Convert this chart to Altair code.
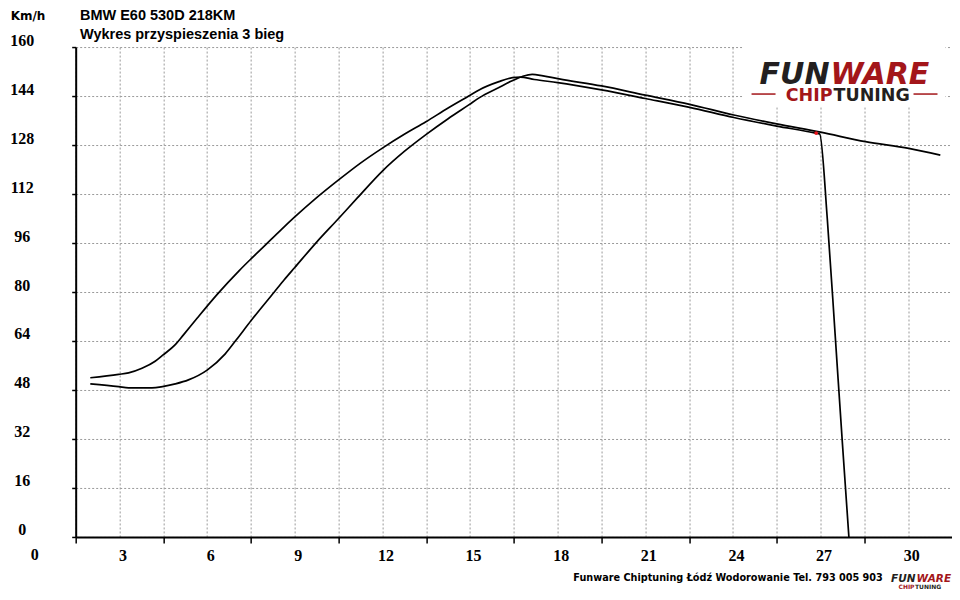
import altair as alt
import pandas as pd

# ---------------- data ----------------
a_time = [2.0, 2.97, 3.31, 3.77, 4.22, 4.47, 4.91, 5.19, 5.67, 6.36, 7.1, 7.5, 8.0, 8.53,
          9.0, 9.75, 10.5, 11.25, 12.0, 12.75, 13.49, 14.25, 14.97, 15.31, 15.99, 16.45,
          16.72, 17.2, 18.0, 19.5, 21.0, 22.52, 24.03, 25.5, 26.83, 26.97, 27.23, 27.5,
          27.74, 27.97]
a_speed = [52.0, 53.1, 53.6, 55.1, 57.4, 59.3, 62.8, 66.0, 71.6, 79.4, 87.0, 90.8, 95.4, 100.3,
           104.5, 110.8, 116.6, 122.1, 127.0, 131.5, 135.6, 140.1, 144.1, 146.0, 148.7, 150.0,
           150.2, 149.4, 148.4, 146.0, 143.2, 140.3, 137.0, 134.2, 131.9, 131.6, 104.0, 66.0,
           31.7, 0.0]

b_time = [2.0, 2.97, 3.31, 4.11, 4.47, 4.91, 5.36, 6.0, 6.62, 7.0, 7.5, 8.3, 8.64, 9.0,
          9.75, 10.5, 11.15, 12.0, 12.75, 13.49, 14.25, 14.97, 15.31, 15.99, 16.4, 16.79,
          17.13, 17.5, 18.05, 19.5, 21.0, 22.52, 24.03, 25.5, 27.0, 28.54, 30.02, 31.1]
b_speed = [50.0, 49.1, 48.7, 48.7, 49.1, 50.0, 51.3, 54.5, 59.8, 64.4, 70.6, 80.0, 84.0, 88.0,
           96.3, 104.0, 110.8, 119.5, 125.9, 131.4, 136.6, 141.2, 143.4, 146.8, 148.8, 150.4,
           151.1, 150.6, 149.6, 147.3, 144.3, 141.3, 137.8, 134.9, 132.2, 129.1, 126.9, 124.7]

marker_time = [26.85]
marker_speed = [131.9]

x_tick_labels = [3, 6, 9, 12, 15, 18, 21, 24, 27, 30]
x_origin_label = ["0"]
y_tick_labels = [0, 16, 32, 48, 64, 80, 96, 112, 128, 144, 160]

title_lines = ["BMW E60 530D 218KM", "Wykres przyspieszenia 3 bieg"]
unit_label = "Km/h"
footer_text = "Funware Chiptuning Łódź Wodorowanie Tel. 793 005 903"
logo_parts = ["FUN", "WARE", "CHIP", "TUNING"]

# ---------------- build tables ----------------
curves = pd.concat([
    pd.DataFrame({"series": "A", "time": a_time, "speed": a_speed}),
    pd.DataFrame({"series": "B", "time": b_time, "speed": b_speed}),
], ignore_index=True)
marker = pd.DataFrame({"time": marker_time, "speed": marker_speed})
origin = pd.DataFrame({"t": x_origin_label, "time": [0], "speed": [0]})

x_grid_values = [1.5 + 1.5 * i for i in range(21)]
y_grid_values = [8 * i for i in range(21)]

TICK_FONT = "Liberation Serif"
SANS = "Liberation Sans"
DARK = "#231f20"
RED = "#a3161a"

x_enc = alt.X(
    "time:Q",
    scale=alt.Scale(domain=[1.5, 31.5], nice=False, zero=False),
    axis=alt.Axis(
        values=x_grid_values,
        labelExpr="datum.value % 3 == 0 ? format(datum.value, 'd') : ''",
        labelFont=TICK_FONT, labelFontSize=16, labelFontWeight="bold", labelColor="black",
        labelPadding=5, labelOffset=3, labelOverlap=False, labelFlush=False,
        labelBaseline="top",
        tickSize=6, tickColor="black", tickWidth=1.5,
        tickOpacity={"condition": {"test": "datum.value % 3 == 1.5", "value": 1}, "value": 0},
        domainColor="black", domainWidth=2,
        grid=True, gridColor="#9a9a9a", gridDash=[2, 2], gridWidth=1,
        title=footer_text, titleFont="DejaVu Sans", titleFontSize=9.7, titleFontWeight="bold",
        titleColor="black", titleX=652, titleY=44, titleAlign="center",
        titleBaseline="alphabetic",
    ),
)
y_enc = alt.Y(
    "speed:Q",
    scale=alt.Scale(domain=[0, 160], nice=False),
    axis=alt.Axis(
        values=y_grid_values,
        labelExpr="datum.value % 16 == 0 ? format(datum.value, 'd') : ''",
        labelFont=TICK_FONT, labelFontSize=16, labelFontWeight="bold", labelColor="black",
        labelAlign="center", labelBaseline="middle", labelPadding=50, labelOffset=-7,
        labelOverlap=False,
        tickSize=4, tickColor="black", tickWidth=1.5,
        tickOpacity={"condition": {"test": "datum.value % 16 == 0", "value": 1}, "value": 0},
        domainColor="black", domainWidth=2,
        grid=True, gridColor="#9a9a9a", gridDash=[2, 2], gridWidth=1,
        title=None,
    ),
)

lines = alt.Chart(curves).mark_line(
    color="black", strokeWidth=1.7, interpolate="monotone", strokeJoin="round"
).encode(x=x_enc, y=y_enc, detail="series:N")

red_mark = alt.Chart(marker).mark_point(
    filled=True, color="#e8141b", size=14, opacity=1
).encode(x="time:Q", y="speed:Q")

origin_label = alt.Chart(origin).mark_text(
    font=TICK_FONT, fontSize=16, fontWeight="bold", color="black",
    dx=3, dy=18, baseline="middle", align="center"
).encode(x="time:Q", y="speed:Q", text="t:N")


def label(text, x, y, **kw):
    return alt.Chart(pd.DataFrame({"t": [text]})).mark_text(**kw).encode(
        text="t:N", x=alt.value(x), y=alt.value(y)
    )


titles = [
    label(title_lines[0], 4.3, -27.5, font=SANS, fontSize=14.5, fontWeight="bold",
          color="black", align="left", baseline="alphabetic"),
    label(title_lines[1], 4.3, -8.5, font=SANS, fontSize=14.5, fontWeight="bold",
          color="black", align="left", baseline="alphabetic"),
    label(unit_label, -47.7, -27.5, font="DejaVu Sans", fontSize=12, fontWeight="bold",
          color="black", align="center", baseline="alphabetic"),
]

logo_bg = alt.Chart(pd.DataFrame({"k": [0]})).mark_rect(color="white").encode(
    x=alt.value(667), x2=alt.value(870), y=alt.value(-7), y2=alt.value(59)
)
logo_rules = [
    alt.Chart(pd.DataFrame({"k": [0]})).mark_rule(color=RED, strokeWidth=1.5).encode(
        x=alt.value(676), x2=alt.value(700), y=alt.value(47)),
    alt.Chart(pd.DataFrame({"k": [0]})).mark_rule(color=RED, strokeWidth=1.5).encode(
        x=alt.value(838), x2=alt.value(862), y=alt.value(47)),
]
logo_text = [
    label(logo_parts[0], 754, 36.5, font="DejaVu Sans", fontSize=30, fontWeight="bold",
          fontStyle="italic", color=DARK, align="right", baseline="alphabetic"),
    label(logo_parts[1], 755, 36.5, font="DejaVu Sans", fontSize=30, fontWeight="bold",
          fontStyle="italic", color=RED, align="left", baseline="alphabetic"),
    label(logo_parts[2], 757, 54, font="DejaVu Sans", fontSize=17.5, fontWeight="bold",
          color=RED, align="right", baseline="alphabetic"),
    label(logo_parts[3], 758, 54, font="DejaVu Sans", fontSize=17.5, fontWeight="bold",
          color=DARK, align="left", baseline="alphabetic"),
    # small footer logo
    label(logo_parts[0], 840, 535, font="DejaVu Sans", fontSize=10.5, fontWeight="bold",
          fontStyle="italic", color=DARK, align="right", baseline="alphabetic"),
    label(logo_parts[1], 841, 535, font="DejaVu Sans", fontSize=10.5, fontWeight="bold",
          fontStyle="italic", color=RED, align="left", baseline="alphabetic"),
    label(logo_parts[2], 839, 542, font="DejaVu Sans", fontSize=6, fontWeight="bold",
          color=RED, align="right", baseline="alphabetic"),
    label(logo_parts[3], 839.5, 542, font="DejaVu Sans", fontSize=6, fontWeight="bold",
          color=DARK, align="left", baseline="alphabetic"),
]

chart = alt.layer(
    logo_bg, lines, red_mark, origin_label, *titles, *logo_rules, *logo_text
).properties(
    width=876.5, height=490,
    padding={"left": 67.7, "top": 39, "right": 0, "bottom": 55},
    autosize=alt.AutoSizeParams(type="none"),
    background="white",
).configure_view(stroke=None)

chart.save("out.html", embed_options={"renderer": "svg", "actions": False})
